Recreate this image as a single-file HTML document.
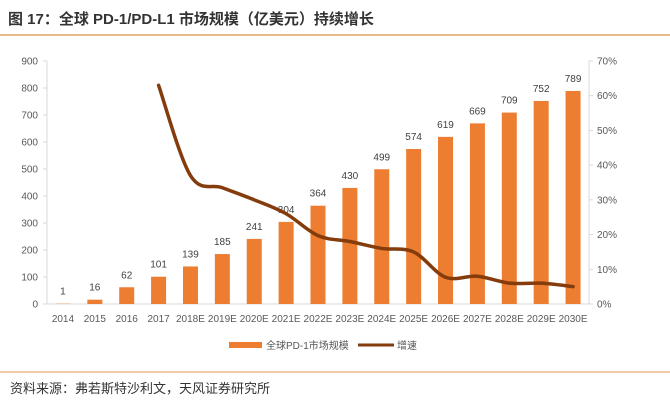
<!DOCTYPE html>
<html><head><meta charset="utf-8"><style>
body{margin:0;background:#fff;width:670px;height:408px;overflow:hidden;font-family:"Liberation Sans","Noto Sans CJK SC",sans-serif}
svg text{font-family:"Liberation Sans","Noto Sans CJK SC",sans-serif}
</style></head><body>
<svg id="c" width="670" height="408">
<text x="8" y="24" font-size="15" font-weight="bold" fill="#333">图 17：全球 PD-1/PD-L1 市场规模（亿美元）持续增长</text>
<line x1="0" y1="35" x2="670" y2="35" stroke="#e8b98a" stroke-width="2"/>
<line x1="0" y1="372" x2="670" y2="372" stroke="#e8b98a" stroke-width="1.5"/>
<text x="10" y="393" font-size="13" fill="#333">资料来源：弗若斯特沙利文，天风证券研究所</text>
<g id="plot"></g>
<rect x="229" y="342" width="33" height="6" fill="#ed7d31"/>
<text x="266" y="349" font-size="10" fill="#555">全球PD-1市场规模</text>
<line x1="358" y1="345" x2="394" y2="345" stroke="#843c0c" stroke-width="3"/>
<text x="397" y="349" font-size="10" fill="#555">增速</text>
</svg>
<script>
const categories=["2014","2015","2016","2017","2018E","2019E","2020E","2021E","2022E","2023E","2024E","2025E","2026E","2027E","2028E","2029E","2030E"];
const marketSize=[1,16,62,101,139,185,241,304,364,430,499,574,619,669,709,752,789];
const growth=[null,null,null,63,37,33.5,30,26,19.7,18,16,15,7.7,8,6,6,5];
const leftTicks=[0,100,200,300,400,500,600,700,800,900];
const rightTicks=[0,10,20,30,40,50,60,70];
const NS="http://www.w3.org/2000/svg";
const g=document.getElementById('plot');
const X0=47,X1=589,Y0=304,Y1=61;
const step=(X1-X0)/categories.length;
const xc=i=>X0+step*(i+0.5);
const yl=v=>Y0-(v/900)*(Y0-Y1);
const yr=v=>Y0-(v/70)*(Y0-Y1);
function el(t,a){const e=document.createElementNS(NS,t);for(const k in a)e.setAttribute(k,a[k]);g.appendChild(e);return e;}
let ax=el('line',{x1:X0,y1:Y1,x2:X0,y2:Y0,stroke:'#d9d9d9'});


let ax2=el('line',{x1:X1,y1:Y1,x2:X1,y2:Y0,stroke:'#d9d9d9'});


let ax3=el('line',{x1:X0,y1:Y0,x2:X1,y2:Y0,stroke:'#d9d9d9'});


leftTicks.forEach(v=>{
 el('line',{x1:X0-4,y1:yl(v),x2:X0,y2:yl(v),stroke:'#d9d9d9'});
 const t=el('text',{x:38,y:yl(v)+3.5,'font-size':10,fill:'#595959','text-anchor':'end'});t.textContent=v;
 
 
});
rightTicks.forEach(v=>{
 el('line',{x1:X1,y1:yr(v),x2:X1+4,y2:yr(v),stroke:'#d9d9d9'});
 const t=el('text',{x:597,y:yr(v)+3.5,'font-size':10,fill:'#595959'});t.textContent=v+'%';
 
 
});
categories.forEach((c,i)=>{
 const t=el('text',{x:xc(i),y:322,'font-size':10,fill:'#595959','text-anchor':'middle'});t.textContent=c;
 
 
 const v=marketSize[i];
 const r=el('rect',{x:xc(i)-7.5,y:yl(v),width:15,height:Y0-yl(v),fill:'#ed7d31'});
 
 
 const l=el('text',{x:xc(i),y:yl(v)-9,'font-size':10,fill:'#404040','text-anchor':'middle'});l.textContent=v;
 
 
});
const pts=[];growth.forEach((v,i)=>{if(v!==null)pts.push([xc(i),yr(v)]);});
let d='M'+pts[0][0]+','+pts[0][1];
for(let i=0;i<pts.length-1;i++){
 const p0=pts[Math.max(i-1,0)],p1=pts[i],p2=pts[i+1],p3=pts[Math.min(i+2,pts.length-1)];
 const c1=[p1[0]+(p2[0]-p0[0])/6,p1[1]+(p2[1]-p0[1])/6],c2=[p2[0]-(p3[0]-p1[0])/6,p2[1]-(p3[1]-p1[1])/6];
 d+=` C${c1[0]},${c1[1]} ${c2[0]},${c2[1]} ${p2[0]},${p2[1]}`;
}
const ln=el('path',{d:d,fill:'none',stroke:'#843c0c','stroke-width':3.5,'stroke-linecap':'round'});


</script>
</body></html>
